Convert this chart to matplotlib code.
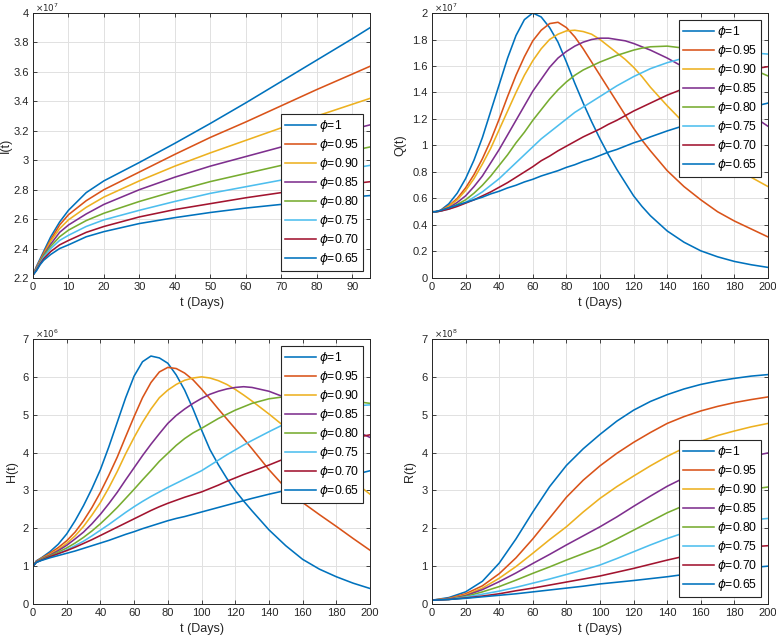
import numpy as np
import matplotlib
matplotlib.use("Agg")
import matplotlib.pyplot as plt
from matplotlib.ticker import FuncFormatter, MultipleLocator

plt.rcParams['font.family'] = ['Liberation Sans', 'DejaVu Sans']
plt.rcParams['mathtext.fontset'] = 'dejavusans'

labels = [r'$\phi$=1', r'$\phi$=0.95', r'$\phi$=0.90', r'$\phi$=0.85',
          r'$\phi$=0.80', r'$\phi$=0.75', r'$\phi$=0.70', r'$\phi$=0.65']
colors = ['#0072BD', '#D95319', '#EDB120', '#7E2F8E',
          '#77AC30', '#4DBEEE', '#A2142F', '#0072BD']

# ---- I(t), x1e7 ----
t_I = [0, 1, 2, 3, 5, 7.5, 10, 15, 20, 30, 40, 50, 60, 70, 80, 90, 95]
I_100 = [2.22, 2.28, 2.33, 2.38, 2.48, 2.58, 2.66, 2.78, 2.86, 2.985, 3.115, 3.25, 3.39, 3.535, 3.68, 3.825, 3.90]
I_095 = [2.22, 2.275, 2.32, 2.37, 2.46, 2.56, 2.63, 2.725, 2.80, 2.92, 3.04, 3.155, 3.26, 3.37, 3.48, 3.585, 3.638]
I_090 = [2.22, 2.27, 2.315, 2.36, 2.45, 2.535, 2.595, 2.68, 2.75, 2.86, 2.96, 3.05, 3.135, 3.22, 3.30, 3.38, 3.42]
I_085 = [2.22, 2.27, 2.31, 2.355, 2.43, 2.51, 2.56, 2.635, 2.70, 2.80, 2.885, 2.96, 3.025, 3.09, 3.15, 3.21, 3.24]
I_080 = [2.22, 2.265, 2.305, 2.35, 2.415, 2.48, 2.525, 2.59, 2.64, 2.72, 2.79, 2.855, 2.91, 2.965, 3.015, 3.065, 3.09]
I_075 = [2.22, 2.26, 2.30, 2.34, 2.40, 2.455, 2.49, 2.55, 2.595, 2.66, 2.72, 2.775, 2.82, 2.865, 2.905, 2.945, 2.965]
I_070 = [2.22, 2.255, 2.295, 2.33, 2.38, 2.425, 2.455, 2.51, 2.55, 2.615, 2.665, 2.705, 2.745, 2.78, 2.81, 2.84, 2.854]
I_065 = [2.22, 2.25, 2.29, 2.32, 2.36, 2.40, 2.425, 2.48, 2.515, 2.57, 2.61, 2.645, 2.675, 2.70, 2.725, 2.75, 2.76]

# ---- Q(t) x1e7 and H(t) x1e6 share one time grid ----
t_QH = [0, 2, 5, 10, 15, 20, 25, 30, 35, 40, 45, 50, 55, 60, 65, 70, 75, 80, 85, 90, 95, 100,
        105, 110, 115, 120, 125, 130, 140, 150, 160, 170, 180, 190, 200]
Q_100 = [0.50, 0.50, 0.51, 0.56, 0.64, 0.75, 0.89, 1.06, 1.26, 1.46, 1.66, 1.83, 1.95, 2.00, 1.97, 1.89, 1.78, 1.63, 1.47, 1.32, 1.18, 1.05,
         0.93, 0.82, 0.72, 0.62, 0.54, 0.47, 0.355, 0.27, 0.205, 0.16, 0.125, 0.10, 0.08]
Q_095 = [0.50, 0.50, 0.51, 0.545, 0.60, 0.68, 0.78, 0.90, 1.04, 1.20, 1.37, 1.53, 1.67, 1.79, 1.87, 1.92, 1.93, 1.89, 1.82, 1.73, 1.63, 1.53,
         1.43, 1.33, 1.23, 1.13, 1.04, 0.96, 0.81, 0.69, 0.59, 0.50, 0.43, 0.37, 0.31]
Q_090 = [0.50, 0.50, 0.505, 0.54, 0.59, 0.66, 0.75, 0.86, 0.98, 1.12, 1.26, 1.40, 1.53, 1.64, 1.73, 1.80, 1.84, 1.865, 1.87, 1.86, 1.84, 1.80,
         1.75, 1.70, 1.65, 1.59, 1.52, 1.44, 1.30, 1.17, 1.05, 0.94, 0.85, 0.76, 0.69]
Q_085 = [0.50, 0.50, 0.505, 0.53, 0.57, 0.62, 0.69, 0.77, 0.87, 0.97, 1.08, 1.19, 1.30, 1.41, 1.50, 1.59, 1.66, 1.71, 1.75, 1.78, 1.80, 1.81,
         1.81, 1.80, 1.79, 1.77, 1.745, 1.72, 1.66, 1.59, 1.50, 1.41, 1.32, 1.23, 1.145]
Q_080 = [0.50, 0.50, 0.505, 0.525, 0.555, 0.59, 0.64, 0.70, 0.77, 0.85, 0.93, 1.02, 1.10, 1.19, 1.27, 1.35, 1.42, 1.48, 1.53, 1.57, 1.60, 1.63,
         1.655, 1.68, 1.70, 1.72, 1.735, 1.745, 1.75, 1.735, 1.71, 1.67, 1.63, 1.58, 1.525]
Q_075 = [0.50, 0.50, 0.505, 0.52, 0.545, 0.57, 0.61, 0.65, 0.70, 0.75, 0.81, 0.87, 0.93, 0.99, 1.05, 1.10, 1.15, 1.20, 1.25, 1.29, 1.33, 1.37,
         1.41, 1.45, 1.485, 1.52, 1.55, 1.58, 1.625, 1.66, 1.68, 1.695, 1.70, 1.70, 1.69]
Q_070 = [0.50, 0.50, 0.505, 0.52, 0.54, 0.565, 0.59, 0.62, 0.65, 0.685, 0.72, 0.76, 0.80, 0.84, 0.885, 0.92, 0.96, 0.995, 1.03, 1.065, 1.095, 1.125,
         1.16, 1.19, 1.225, 1.26, 1.29, 1.32, 1.38, 1.43, 1.48, 1.52, 1.55, 1.575, 1.595]
Q_065 = [0.50, 0.50, 0.51, 0.53, 0.55, 0.57, 0.59, 0.61, 0.635, 0.655, 0.68, 0.70, 0.725, 0.745, 0.77, 0.79, 0.81, 0.835, 0.855, 0.88, 0.90, 0.925,
         0.95, 0.97, 0.995, 1.02, 1.04, 1.065, 1.11, 1.15, 1.19, 1.23, 1.26, 1.29, 1.32]

H_100 = [1.0, 1.14, 1.22, 1.38, 1.58, 1.85, 2.2, 2.6, 3.05, 3.55, 4.15, 4.8, 5.45, 6.02, 6.4, 6.55, 6.5, 6.36, 6.05, 5.65, 5.15, 4.6,
         4.08, 3.68, 3.32, 3.0, 2.72, 2.46, 1.96, 1.54, 1.18, 0.92, 0.72, 0.55, 0.41]
H_095 = [1.0, 1.13, 1.21, 1.34, 1.49, 1.67, 1.9, 2.2, 2.55, 2.95, 3.4, 3.88, 4.42, 4.95, 5.45, 5.85, 6.13, 6.25, 6.22, 6.1, 5.92, 5.68,
         5.42, 5.15, 4.89, 4.63, 4.37, 4.1, 3.55, 3.06, 2.68, 2.36, 2.05, 1.73, 1.42]
H_090 = [1.0, 1.12, 1.2, 1.31, 1.44, 1.6, 1.8, 2.05, 2.35, 2.68, 3.07, 3.5, 3.97, 4.4, 4.8, 5.15, 5.45, 5.65, 5.8, 5.91, 5.97, 6.0,
         5.97, 5.9, 5.8, 5.67, 5.52, 5.36, 5.02, 4.66, 4.3, 3.95, 3.6, 3.25, 2.9]
H_085 = [1.0, 1.12, 1.19, 1.29, 1.41, 1.55, 1.72, 1.9, 2.12, 2.37, 2.65, 2.95, 3.28, 3.6, 3.92, 4.22, 4.5, 4.77, 4.98, 5.15, 5.3, 5.43,
         5.54, 5.62, 5.68, 5.72, 5.74, 5.72, 5.62, 5.45, 5.25, 5.03, 4.8, 4.6, 4.4]
H_080 = [1.0, 1.11, 1.18, 1.27, 1.37, 1.48, 1.61, 1.76, 1.93, 2.12, 2.33, 2.55, 2.79, 3.03, 3.28, 3.52, 3.77, 3.98, 4.19, 4.37, 4.52, 4.64,
         4.77, 4.9, 5.01, 5.12, 5.21, 5.3, 5.42, 5.48, 5.5, 5.47, 5.42, 5.36, 5.3]
H_075 = [1.0, 1.1, 1.16, 1.24, 1.33, 1.43, 1.54, 1.66, 1.8, 1.95, 2.1, 2.26, 2.42, 2.57, 2.71, 2.84, 2.96, 3.08, 3.19, 3.3, 3.41, 3.52,
         3.66, 3.8, 3.94, 4.07, 4.2, 4.32, 4.55, 4.77, 4.95, 5.08, 5.17, 5.23, 5.26]
H_070 = [1.0, 1.1, 1.16, 1.25, 1.33, 1.41, 1.5, 1.6, 1.7, 1.81, 1.92, 2.03, 2.14, 2.25, 2.36, 2.47, 2.57, 2.66, 2.74, 2.82, 2.89, 2.96,
         3.05, 3.14, 3.24, 3.33, 3.42, 3.5, 3.67, 3.85, 4.0, 4.15, 4.28, 4.38, 4.47]
H_065 = [1.0, 1.1, 1.15, 1.22, 1.28, 1.34, 1.4, 1.47, 1.54, 1.61, 1.68, 1.76, 1.84, 1.91, 1.99, 2.06, 2.13, 2.2, 2.26, 2.31, 2.37, 2.43,
         2.49, 2.55, 2.61, 2.67, 2.73, 2.79, 2.9, 3.0, 3.1, 3.2, 3.3, 3.41, 3.52]

# ---- R(t), x1e8 ----
t_R = [0, 10, 20, 30, 40, 50, 60, 70, 80, 90, 100, 110, 120, 130, 140, 150, 160, 170, 180, 190, 200]
R_100 = [0.1, 0.17, 0.32, 0.6, 1.08, 1.72, 2.43, 3.1, 3.66, 4.1, 4.48, 4.83, 5.12, 5.35, 5.53, 5.68, 5.8, 5.89, 5.96, 6.02, 6.06]
R_095 = [0.1, 0.15, 0.27, 0.48, 0.8, 1.22, 1.72, 2.27, 2.82, 3.27, 3.65, 3.98, 4.27, 4.53, 4.77, 4.95, 5.1, 5.22, 5.32, 5.4, 5.47]
R_090 = [0.1, 0.14, 0.24, 0.42, 0.68, 0.99, 1.34, 1.7, 2.04, 2.43, 2.79, 3.1, 3.38, 3.65, 3.9, 4.12, 4.3, 4.45, 4.57, 4.68, 4.77]
R_085 = [0.1, 0.13, 0.22, 0.38, 0.59, 0.82, 1.07, 1.31, 1.56, 1.8, 2.04, 2.3, 2.58, 2.85, 3.11, 3.33, 3.52, 3.67, 3.79, 3.9, 3.99]
R_080 = [0.1, 0.12, 0.2, 0.32, 0.46, 0.63, 0.81, 0.98, 1.16, 1.33, 1.5, 1.72, 1.95, 2.18, 2.41, 2.6, 2.75, 2.87, 2.96, 3.03, 3.09]
R_075 = [0.1, 0.12, 0.18, 0.26, 0.34, 0.44, 0.55, 0.66, 0.78, 0.9, 1.03, 1.2, 1.38, 1.56, 1.73, 1.88, 2.0, 2.1, 2.17, 2.22, 2.26]
R_070 = [0.1, 0.12, 0.16, 0.21, 0.27, 0.35, 0.42, 0.5, 0.58, 0.66, 0.74, 0.84, 0.94, 1.05, 1.16, 1.26, 1.34, 1.41, 1.47, 1.51, 1.54]
R_065 = [0.1, 0.12, 0.15, 0.19, 0.23, 0.27, 0.32, 0.37, 0.42, 0.47, 0.53, 0.575, 0.62, 0.67, 0.72, 0.78, 0.83, 0.88, 0.92, 0.96, 1.0]

panels = [
    (t_I, [I_100, I_095, I_090, I_085, I_080, I_075, I_070, I_065], 'I(t)', 7, (0, 95), 10, (2.2, 4), 0.2, 'lower right', -0.062),
    (t_QH, [Q_100, Q_095, Q_090, Q_085, Q_080, Q_075, Q_070, Q_065], 'Q(t)', 7, (0, 200), 20, (0, 2), 0.2, 'upper right', -0.077),
    (t_QH, [H_100, H_095, H_090, H_085, H_080, H_075, H_070, H_065], 'H(t)', 6, (0, 200), 20, (0, 7), 1, 'upper right', -0.045),
    (t_R, [R_100, R_095, R_090, R_085, R_080, R_075, R_070, R_065], 'R(t)', 8, (0, 200), 20, (0, 7), 1, 'lower right', -0.048),
]

# axes boxes in pixels (left, top, right, bottom)
boxes = [(33, 13, 370, 278), (432, 13, 768, 278), (33, 339, 370, 604), (432, 339, 768, 604)]
W, H = 776, 638

fig = plt.figure(figsize=(W / 100, H / 100), dpi=100)
dark = '#262626'

for (t, series, ylab, expo, xl, xstep, yl, ystep, loc, ylx), (l, tp, r, b) in zip(panels, boxes):
    ax = fig.add_axes([l / W, 1 - b / H, (r - l) / W, (b - tp) / H])
    for y, c, lab in zip(series, colors, labels):
        ax.plot(t, y, color=c, lw=1.15, label=lab)
    ax.set_xlim(*xl)
    ax.set_ylim(*yl)
    ax.xaxis.set_major_locator(MultipleLocator(xstep))
    ax.yaxis.set_major_locator(MultipleLocator(ystep))
    ax.yaxis.set_major_formatter(FuncFormatter(lambda v, p: '%g' % round(v, 3)))
    ax.grid(True, color='#e1e1e1', lw=0.7)
    ax.set_axisbelow(True)
    ax.tick_params(direction='in', top=True, right=True, length=3, width=0.6,
                   labelsize=8, colors=dark, pad=3)
    for s in ax.spines.values():
        s.set_color(dark)
        s.set_linewidth(0.7)
    ax.set_xlabel('t (Days)', fontsize=9, color=dark, va='top')
    ax.xaxis.set_label_coords(0.5, -0.072)
    ax.set_ylabel(ylab, fontsize=9, color=dark)
    ax.yaxis.set_label_coords(ylx, 0.5)
    ax.text(0.005, 0.996, r'$\times10^{%d}$' % expo, transform=ax.transAxes,
            fontsize=6.3, color=dark, va='bottom', ha='left')
    leg = ax.legend(loc=loc, fontsize=8.7, frameon=True, fancybox=False,
                    edgecolor=dark, framealpha=1, labelspacing=0.25,
                    handlelength=2.6, handletextpad=0.2, borderpad=0.3,
                    borderaxespad=0.6)
    leg.get_frame().set_linewidth(0.8)

fig.savefig('out.png', dpi=100)
